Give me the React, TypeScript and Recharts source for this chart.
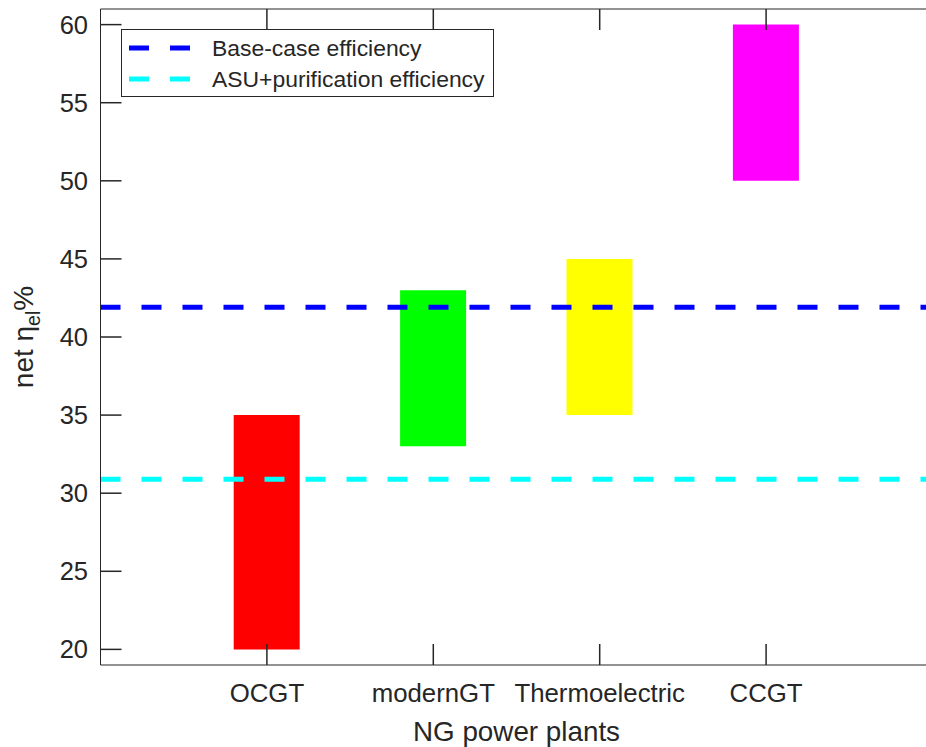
import {
  Bar,
  Cell,
  ComposedChart,
  Label,
  Legend,
  ReferenceLine,
  XAxis,
  YAxis,
} from "recharts";

const plants = ["OCGT", "modernGT", "Thermoelectric", "CCGT"];
const lowEff = [20, 33, 35, 50];
const highEff = [35, 43, 45, 60];
const barColors = ["#ff0000", "#00ff00", "#ffff00", "#ff00ff"];
const yTicks = [20, 25, 30, 35, 40, 45, 50, 55, 60];
const xTicks = [1, 2, 3, 4];
const baseCaseEff = 41.9;
const asuEff = 30.9;

const legendItems = [
  { label: "Base-case efficiency", color: "#0000ff" },
  { label: "ASU+purification efficiency", color: "#00ffff" },
];

const AXIS = "#262626";
const FONT = '"Liberation Sans", Arial, Helvetica, sans-serif';

const data = plants.map((name, i) => ({
  pos: i + 1,
  name,
  range: [lowEff[i], highEff[i]],
}));

function BottomTick(props: any) {
  const { x, y, payload } = props;
  return (
    <g>
      <line x1={x} x2={x} y1={y} y2={y - 21} stroke={AXIS} strokeWidth={1.5} />
      <text
        x={x}
        y={y + 36.7}
        textAnchor="middle"
        fill={AXIS}
        fontSize={25.8}
        fontFamily={FONT}
      >
        {plants[payload.value - 1]}
      </text>
    </g>
  );
}

function TopTick(props: any) {
  const { x, y } = props;
  return <line x1={x} x2={x} y1={y} y2={y + 21} stroke={AXIS} strokeWidth={1.5} />;
}

function LeftTick(props: any) {
  const { x, y, payload } = props;
  return (
    <g>
      <line x1={x} x2={x + 21} y1={y} y2={y} stroke={AXIS} strokeWidth={1.5} />
      <text
        x={x - 12.5}
        y={y + 9}
        textAnchor="end"
        fill={AXIS}
        fontSize={25.5}
        fontFamily={FONT}
      >
        {payload.value}
      </text>
    </g>
  );
}

function RightTick(props: any) {
  const { x, y } = props;
  return <line x1={x - 21} x2={x} y1={y} y2={y} stroke={AXIS} strokeWidth={1.5} />;
}

function YTitle(props: any) {
  const vb = props.viewBox;
  const cx = vb.x + 32.5;
  const cy = vb.y + vb.height / 2;
  return (
    <text
      x={cx}
      y={cy}
      transform={`rotate(-90, ${cx}, ${cy})`}
      textAnchor="middle"
      fill={AXIS}
      fontSize={28}
      fontFamily={FONT}
    >
      net η
      <tspan fontSize={19.5} dy={7}>
        el
      </tspan>
      <tspan dy={-7}>%</tspan>
    </text>
  );
}

function XTitle(props: any) {
  const vb = props.viewBox;
  return (
    <text
      x={vb.x + vb.width / 2}
      y={741}
      textAnchor="middle"
      fill={AXIS}
      fontSize={27.8}
      fontFamily={FONT}
    >
      NG power plants
    </text>
  );
}

function LegendBox() {
  return (
    <svg width={373} height={68} style={{ display: "block" }}>
      <rect x={0.5} y={0.5} width={372} height={67} fill="#fff" stroke={AXIS} strokeWidth={1} />
      {legendItems.map((item, i) => {
        const cy = 19 + i * 31;
        return (
          <g key={item.label}>
            <line
              x1={8}
              x2={69}
              y1={cy}
              y2={cy}
              stroke={item.color}
              strokeWidth={5}
              strokeDasharray="20 21"
            />
            <text
              x={91}
              y={cy + 8}
              fill={AXIS}
              fontSize={22.9}
              fontFamily={FONT}
            >
              {item.label}
            </text>
          </g>
        );
      })}
    </svg>
  );
}

export default function App() {
  return (
    <div
      style={{
        position: "fixed",
        left: 0,
        top: 0,
        width: 926,
        height: 747,
        overflow: "hidden",
        background: "#fff",
      }}
    >
      <ComposedChart
        width={943}
        height={747}
        data={data}
        margin={{ top: 0, right: 0.5, bottom: 0, left: 0.5 }}
      >
        <XAxis
          dataKey="pos"
          type="number"
          domain={[0, 5]}
          ticks={xTicks}
          interval={0}
          height={82}
          tickSize={0}
          tickMargin={0}
          tickLine={false}
          axisLine={{ stroke: AXIS, strokeWidth: 1 }}
          tick={<BottomTick />}
        >
          <Label content={<XTitle />} />
        </XAxis>
        <XAxis
          xAxisId="top"
          orientation="top"
          dataKey="pos"
          type="number"
          domain={[0, 5]}
          ticks={xTicks}
          interval={0}
          height={9}
          tickSize={0}
          tickMargin={0}
          tickLine={false}
          axisLine={{ stroke: AXIS, strokeWidth: 1 }}
          tick={<TopTick />}
        />
        <YAxis
          type="number"
          domain={[19, 61]}
          ticks={yTicks}
          interval={0}
          width={100}
          tickSize={0}
          tickMargin={0}
          tickLine={false}
          axisLine={{ stroke: AXIS, strokeWidth: 1 }}
          tick={<LeftTick />}
        >
          <Label content={<YTitle />} />
        </YAxis>
        <YAxis
          yAxisId="right"
          orientation="right"
          type="number"
          domain={[19, 61]}
          ticks={yTicks}
          interval={0}
          width={10}
          tickSize={0}
          tickMargin={0}
          tickLine={false}
          axisLine={{ stroke: AXIS, strokeWidth: 1 }}
          tick={<RightTick />}
        />
        <Legend
          layout="vertical"
          align="center"
          verticalAlign="middle"
          width={373}
          wrapperStyle={{ left: 121, top: 29, width: 373, height: 68 }}
          content={<LegendBox />}
        />
        <Bar dataKey="range" barSize={66} isAnimationActive={false}>
          {data.map((d, i) => (
            <Cell key={d.name} fill={barColors[i]} />
          ))}
        </Bar>
        <ReferenceLine
          y={baseCaseEff}
          stroke="#0000ff"
          strokeWidth={5}
          strokeDasharray="20 21"
        />
        <ReferenceLine
          y={asuEff}
          stroke="#00ffff"
          strokeWidth={5}
          strokeDasharray="20 21"
        />
      </ComposedChart>
    </div>
  );
}
